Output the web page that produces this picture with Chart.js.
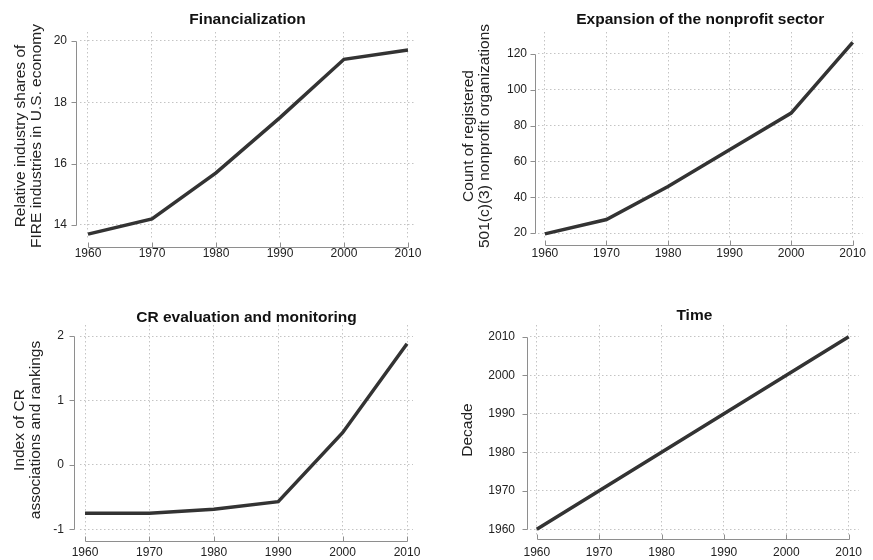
<!DOCTYPE html>
<html>
<head>
<meta charset="utf-8">
<script src="https://cdn.jsdelivr.net/npm/chart.js@4.4.0/dist/chart.umd.min.js"></script>
<style>
  html, body { margin: 0; padding: 0; background: #ffffff; }
  #wrap { position: relative; width: 873px; height: 560px; overflow: hidden; }
  canvas { position: absolute; }
</style>
</head>
<body>
<div id="wrap">
  <canvas id="p1" width="436" height="280" style="left:0px;top:0px"></canvas>
  <canvas id="p2" width="437" height="280" style="left:436px;top:0px"></canvas>
  <canvas id="p3" width="436" height="280" style="left:0px;top:280px"></canvas>
  <canvas id="p4" width="437" height="280" style="left:436px;top:280px"></canvas>
</div>
<script>
// Decade series
const decades = [1960, 1970, 1980, 1990, 2000, 2010];
const fireShare = [13.7, 14.2, 15.7, 17.5, 19.4, 19.7];
const nonprofitCount = [19.5, 27.5, 46, 66.5, 87, 126.5];
const crIndex = [-0.75, -0.75, -0.69, -0.57, 0.5, 1.88];
const decadeValue = [1960, 1970, 1980, 1990, 2000, 2010];

// Tick values
const yearTicks = [1960, 1970, 1980, 1990, 2000, 2010];
const fireTicks = [14, 16, 18, 20];
const nonprofitTicks = [20, 40, 60, 80, 100, 120];
const crTicks = [-1, 0, 1, 2];
const decadeTicks = [1960, 1970, 1980, 1990, 2000, 2010];

// Panel texts
const panelTitles = ['Financialization', 'Expansion of the nonprofit sector', 'CR evaluation and monitoring', 'Time'];
const fireLabel = ['Relative industry shares of', 'FIRE industries in U.S. economy'];
const nonprofitLabel = ['Count of registered', '501(c)(3) nonprofit organizations'];
const crLabel = ['Index of CR', 'associations and rankings'];
const decadeLabel = 'Decade';

const FONT = "'Liberation Sans', Arial, Helvetica, sans-serif";

// Base-graphics style axes: a line running from the first to the last tick,
// detached from the plotting region, with short tick marks.
const detachedAxes = {
  id: 'detachedAxes',
  afterLayout(chart) {
    const a = chart.chartArea;
    if (chart.titleBlock) {
      chart.titleBlock.left = a.left;
      chart.titleBlock.right = a.right;
    }
  },
  afterDraw(chart, args, opts) {
    const { ctx, chartArea: a } = chart;
    const xs = chart.scales.x, ys = chart.scales.y;
    ctx.save();
    ctx.strokeStyle = '#8e8e8e';
    ctx.lineWidth = 1;
    ctx.beginPath();
    // y axis
    const ax = Math.round(a.left - opts.yOff) + 0.5;
    const yp = ys.ticks.map(t => Math.round(ys.getPixelForValue(t.value)) + 0.5);
    ctx.moveTo(ax, Math.min(...yp));
    ctx.lineTo(ax, Math.max(...yp));
    yp.forEach(p => { ctx.moveTo(ax, p); ctx.lineTo(ax - 5, p); });
    // x axis
    const ay = Math.round(a.bottom + opts.xOff) + 0.5;
    const xp = xs.ticks.map(t => Math.round(xs.getPixelForValue(t.value)) + 0.5);
    ctx.moveTo(Math.min(...xp), ay);
    ctx.lineTo(Math.max(...xp), ay);
    xp.forEach(p => { ctx.moveTo(p, ay); ctx.lineTo(p, ay - 5); });
    ctx.stroke();
    ctx.restore();
  }
};

function makePanel(id, cfg) {
  const canvas = document.getElementById(id);
  const H = canvas.height;
  const points = cfg.xs.map((x, i) => ({ x: x, y: cfg.ys[i] }));
  const gridStyle = { color: '#c4c4c4', lineWidth: 1, drawTicks: false, borderDash: [1.5, 2.5] };
  const borderStyle = { display: false, dash: [1.5, 2.5] };
  return new Chart(canvas, {
    type: 'line',
    data: {
      datasets: [{
        data: points,
        borderColor: '#333333',
        borderWidth: 3.5,
        pointRadius: 0,
        tension: 0,
        fill: false
      }]
    },
    options: {
      responsive: false,
      animation: false,
      events: [],
      layout: { padding: { left: 0, right: cfg.padRight, top: 0, bottom: 0 } },
      plugins: {
        legend: { display: false },
        tooltip: { enabled: false },
        title: {
          display: true,
          text: cfg.title,
          color: '#111111',
          font: { family: FONT, size: 15.5, weight: 'bold', lineHeight: 1.0 },
          padding: { top: cfg.titleTop, bottom: cfg.top - 15.5 - cfg.titleTop }
        },
        detachedAxes: { yOff: cfg.yOff, xOff: cfg.xOff }
      },
      scales: {
        x: {
          type: 'linear',
          min: cfg.xMin,
          max: cfg.xMax,
          afterBuildTicks: s => { s.ticks = cfg.xTicks.map(v => ({ value: v })); },
          afterFit: s => { s.height = H - cfg.bottom; },
          grid: gridStyle,
          border: borderStyle,
          ticks: {
            autoSkip: false,
            maxRotation: 0,
            padding: cfg.xLabelPad,
            color: '#222222',
            font: { family: FONT, size: 12 },
            callback: v => String(v)
          }
        },
        y: {
          type: 'linear',
          min: cfg.yMin,
          max: cfg.yMax,
          afterBuildTicks: s => { s.ticks = cfg.yTicks.map(v => ({ value: v })); },
          afterFit: s => { s.width = cfg.left; },
          grid: gridStyle,
          border: borderStyle,
          ticks: {
            autoSkip: false,
            padding: cfg.yLabelPad,
            color: '#222222',
            font: { family: FONT, size: 12 },
            callback: v => String(v)
          },
          title: {
            display: true,
            text: cfg.yLabel,
            color: '#222222',
            font: { family: FONT, size: 15.5, lineHeight: 1.0 },
            padding: { top: cfg.yTitlePad, bottom: 0 }
          }
        }
      }
    },
    plugins: [detachedAxes]
  });
}

makePanel('p1', {
  title: panelTitles[0], yLabel: fireLabel,
  xs: decades, ys: fireShare, xTicks: yearTicks, yTicks: fireTicks,
  xMin: 1958.75, xMax: 2011.1, yMin: 13.51, yMax: 20.29,
  left: 80, padRight: 21, top: 32, bottom: 240, titleTop: 12.25,
  yOff: 4, xOff: 6.5, yLabelPad: 13, xLabelPad: 6.8, yTitlePad: 13.25
});

makePanel('p2', {
  title: panelTitles[1], yLabel: nonprofitLabel,
  xs: decades, ys: nonprofitCount, xTicks: yearTicks, yTicks: nonprofitTicks,
  xMin: 1958.88, xMax: 2011.6, yMin: 16.09, yMax: 132.29,
  left: 102, padRight: 5, top: 32, bottom: 240, titleTop: 12.25,
  yOff: 3, xOff: 5, yLabelPad: 11, xLabelPad: 6.8, yTitlePad: 25.25
});

makePanel('p3', {
  title: panelTitles[2], yLabel: crLabel,
  xs: decades, ys: crIndex, xTicks: yearTicks, yTicks: crTicks,
  xMin: 1959.22, xMax: 2010.93, yMin: -1.088, yMax: 2.171,
  left: 80, padRight: 23, top: 45, bottom: 255, titleTop: 30.25,
  yOff: 6, xOff: 5.7, yLabelPad: 16, xLabelPad: 10.8, yTitlePad: 12.25
});

makePanel('p4', {
  title: panelTitles[3], yLabel: decadeLabel,
  xs: decades, ys: decadeValue, xTicks: yearTicks, yTicks: decadeTicks,
  xMin: 1958.91, xMax: 2011.6, yMin: 1958.52, yMax: 2013.04,
  left: 94, padRight: 5, top: 45, bottom: 255, titleTop: 27.75,
  yOff: 3, xOff: 4, yLabelPad: 15, xLabelPad: 10.8, yTitlePad: 24.25
});
</script>
</body>
</html>
